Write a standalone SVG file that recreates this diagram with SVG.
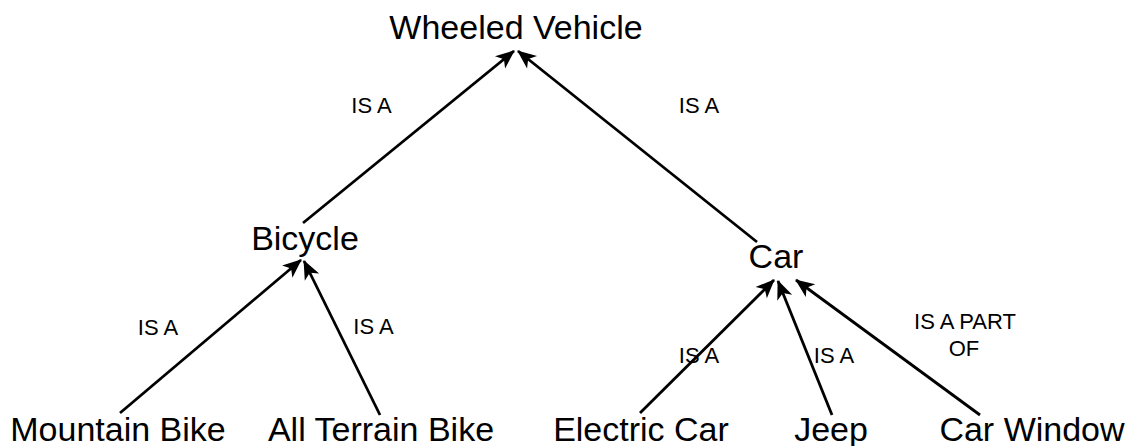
<svg xmlns="http://www.w3.org/2000/svg" width="1131" height="446" viewBox="0 0 1131 446">
  <style>
    .node { font-family: "Liberation Sans", Arial, Helvetica, sans-serif; font-size: 34px; fill: #000; text-anchor: middle; }
    .lbl { font-family: "Liberation Sans", Arial, Helvetica, sans-serif; font-size: 22px; fill: #000; text-anchor: middle; }
    .edge { stroke: #000; stroke-width: 2.8; fill: none; marker-end: url(#arrow); }
  </style>
  <defs>
    <marker id="arrow" markerUnits="userSpaceOnUse" markerWidth="24" markerHeight="20" viewBox="-20 -10 22 20" refX="0" refY="0" orient="auto">
      <path d="M1,0 L-18,-8 L-13,0 L-18,8 Z" fill="#000"/>
    </marker>
  </defs>
  <rect width="1131" height="446" fill="#fff"/>

  <g id="connectors">
    <line class="edge" x1="303" y1="223" x2="514" y2="51"/>
    <line class="edge" x1="757" y1="242" x2="518" y2="51"/>
    <line class="edge" x1="120" y1="413" x2="301" y2="260"/>
    <line class="edge" x1="380" y1="415" x2="304" y2="261"/>
    <line class="edge" x1="640" y1="413" x2="774" y2="280"/>
    <line class="edge" x1="832" y1="415" x2="778" y2="281"/>
    <line class="edge" x1="980" y1="415" x2="796" y2="280"/>
    <text class="lbl" x="371.5" y="113">IS A</text>
    <text class="lbl" x="699" y="113">IS A</text>
    <text class="lbl" x="158" y="335">IS A</text>
    <text class="lbl" x="373.5" y="334">IS A</text>
    <text class="lbl" x="699" y="363">IS A</text>
    <text class="lbl" x="834" y="363">IS A</text>
    <text class="lbl" x="965" y="329">IS A PART</text>
    <text class="lbl" x="964" y="356">OF</text>
  </g>

  <g id="wheeled-vehicle"><text class="node" x="516" y="39">Wheeled Vehicle</text></g>
  <g id="bicycle"><text class="node" x="305" y="250">Bicycle</text></g>
  <g id="car"><text class="node" x="776" y="268">Car</text></g>
  <g id="mountain-bike"><text class="node" x="118" y="441">Mountain Bike</text></g>
  <g id="all-terrain-bike"><text class="node" x="381" y="441">All Terrain Bike</text></g>
  <g id="electric-car"><text class="node" x="641" y="441">Electric Car</text></g>
  <g id="jeep"><text class="node" x="831" y="441">Jeep</text></g>
  <g id="car-window"><text class="node" x="1032" y="441">Car Window</text></g>
</svg>
